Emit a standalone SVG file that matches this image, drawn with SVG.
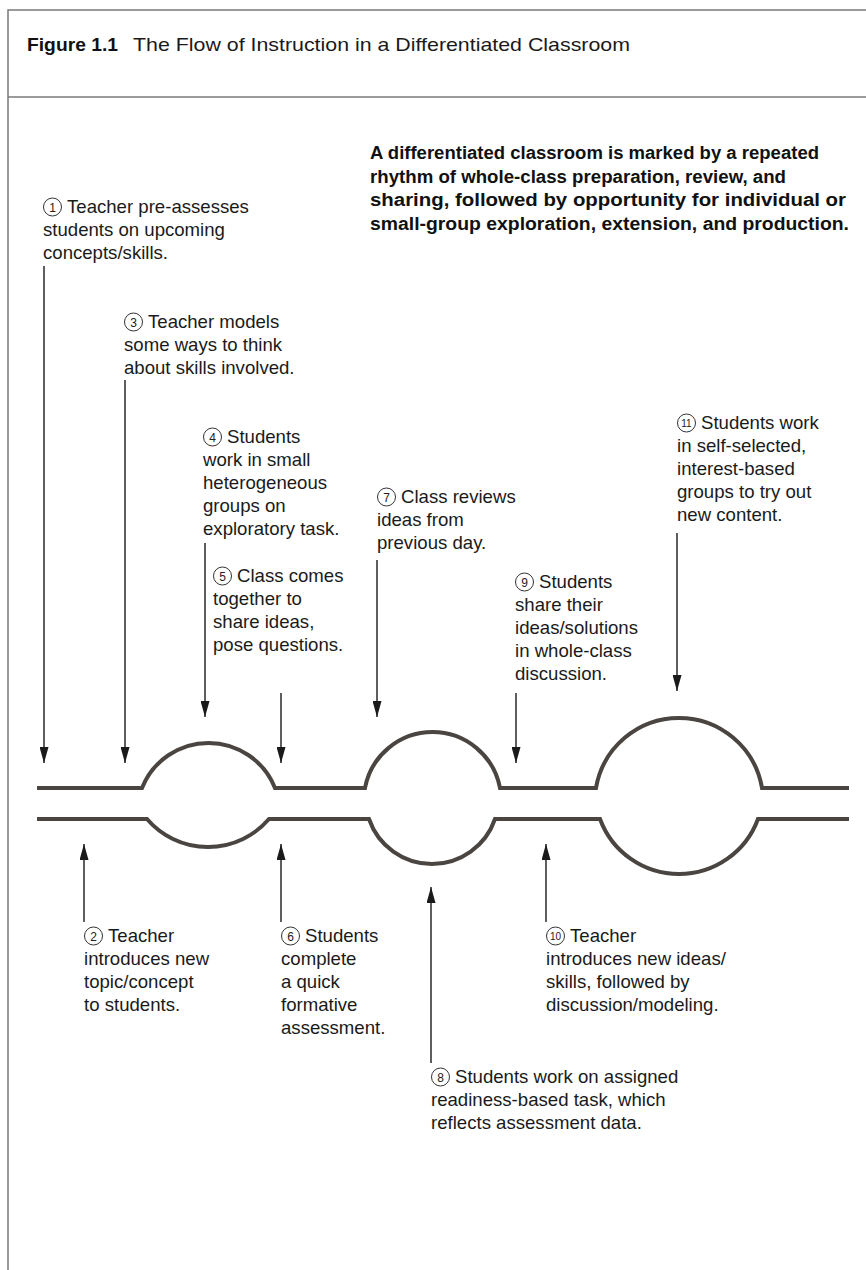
<svg xmlns="http://www.w3.org/2000/svg" width="866" height="1270" viewBox="0 0 866 1270">
<style>
.t{font-family:"Liberation Sans",Arial,sans-serif;font-size:18.6px;fill:#1a1a1a}
.b{font-family:"Liberation Sans",Arial,sans-serif;font-size:18px;font-weight:bold;fill:#111}
.h{font-family:"Liberation Sans",Arial,sans-serif;font-size:19px;fill:#1a1a1a}
.hb{font-family:"Liberation Sans",Arial,sans-serif;font-size:19px;font-weight:bold;fill:#111}
.n{font-family:"Liberation Sans",Arial,sans-serif;font-size:12px;fill:#222;text-anchor:middle}
.n2{font-family:"Liberation Sans",Arial,sans-serif;font-size:10px;fill:#222;text-anchor:middle}
.c{fill:none;stroke:#333;stroke-width:1}
.ar{stroke:#1a1a1a;stroke-width:1.4;fill:none}
.wave{fill:none;stroke:#4a4541;stroke-width:4;stroke-linejoin:miter}
.frame{stroke:#7a7a7a;stroke-width:1.5;fill:none}
</style>
<defs>
<marker id="ah" viewBox="0 0 16 9" refX="16" refY="4.5" markerWidth="16" markerHeight="9" markerUnits="userSpaceOnUse" orient="auto">
<path d="M0,0 L16,4.5 L0,9 Z" fill="#1a1a1a"/>
</marker>
</defs>
<rect width="866" height="1270" fill="#fff"/>
<g id="frame">
<path class="frame" d="M8,1270 V10 H866"/>
<path class="frame" d="M8,97 H866" stroke-width="2"/>
</g>
<g id="title">
<text class="hb" x="27" y="51" textLength="91" lengthAdjust="spacingAndGlyphs">Figure 1.1</text>
<text class="h" x="133" y="51" textLength="497" lengthAdjust="spacingAndGlyphs">The Flow of Instruction in a Differentiated Classroom</text>
</g>
<g id="summary">
<text class="b" x="370" y="159" textLength="449" lengthAdjust="spacingAndGlyphs">A differentiated classroom is marked by a repeated</text>
<text class="b" x="370" y="183" textLength="416" lengthAdjust="spacingAndGlyphs">rhythm of whole-class preparation, review, and</text>
<text class="b" x="370" y="206" textLength="476" lengthAdjust="spacingAndGlyphs">sharing, followed by opportunity for individual or</text>
<text class="b" x="370" y="230" textLength="479" lengthAdjust="spacingAndGlyphs">small-group exploration, extension, and production.</text>
</g>
<g id="wave">
<path class="wave" d="M37,788 H142 A71.6,71.6 0 0 1 275,788 H365 A68.7,68.7 0 0 1 500,788 H596 A84.2,84.2 0 0 1 762,788 H849"/>
<path class="wave" d="M37,819 H147 A80.4,80.4 0 0 0 269,819 H369 A66.6,66.6 0 0 0 495,819 H600 A84.2,84.2 0 0 0 758,819 H849"/>
</g>
<g id="connectors">
<line class="ar" x1="44" y1="266" x2="44" y2="763" marker-end="url(#ah)"/>
<line class="ar" x1="125" y1="380" x2="125" y2="763" marker-end="url(#ah)"/>
<line class="ar" x1="205" y1="543" x2="205" y2="717" marker-end="url(#ah)"/>
<line class="ar" x1="281" y1="693" x2="281" y2="763" marker-end="url(#ah)"/>
<line class="ar" x1="377" y1="560" x2="377" y2="717" marker-end="url(#ah)"/>
<line class="ar" x1="516" y1="693" x2="516" y2="763" marker-end="url(#ah)"/>
<line class="ar" x1="677" y1="533" x2="677" y2="691" marker-end="url(#ah)"/>
<line class="ar" x1="84" y1="922" x2="84" y2="844" marker-end="url(#ah)"/>
<line class="ar" x1="281" y1="922" x2="281" y2="844" marker-end="url(#ah)"/>
<line class="ar" x1="431" y1="1063" x2="431" y2="887" marker-end="url(#ah)"/>
<line class="ar" x1="546" y1="922" x2="546" y2="844" marker-end="url(#ah)"/>
</g>
<g id="n1">
<circle class="c" cx="52.5" cy="207" r="9"/><text class="n" x="52.5" y="211.5">1</text>
<text class="t" x="67" y="213">Teacher pre-assesses</text>
<text class="t" x="43" y="236">students on upcoming</text>
<text class="t" x="43" y="259">concepts/skills.</text>
</g>
<g id="n3">
<circle class="c" cx="133.5" cy="322" r="9"/><text class="n" x="133.5" y="326.5">3</text>
<text class="t" x="148" y="328">Teacher models</text>
<text class="t" x="124" y="351">some ways to think</text>
<text class="t" x="124" y="374">about skills involved.</text>
</g>
<g id="n4">
<circle class="c" cx="212.5" cy="437" r="9"/><text class="n" x="212.5" y="441.5">4</text>
<text class="t" x="227" y="443">Students</text>
<text class="t" x="203" y="466">work in small</text>
<text class="t" x="203" y="489">heterogeneous</text>
<text class="t" x="203" y="512">groups on</text>
<text class="t" x="203" y="535">exploratory task.</text>
</g>
<g id="n5">
<circle class="c" cx="222.5" cy="576" r="9"/><text class="n" x="222.5" y="580.5">5</text>
<text class="t" x="237" y="582">Class comes</text>
<text class="t" x="213" y="605">together to</text>
<text class="t" x="213" y="628">share ideas,</text>
<text class="t" x="213" y="651">pose questions.</text>
</g>
<g id="n7">
<circle class="c" cx="386.5" cy="497" r="9"/><text class="n" x="386.5" y="501.5">7</text>
<text class="t" x="401" y="503">Class reviews</text>
<text class="t" x="377" y="526">ideas from</text>
<text class="t" x="377" y="549">previous day.</text>
</g>
<g id="n9">
<circle class="c" cx="524.5" cy="582" r="9"/><text class="n" x="524.5" y="586.5">9</text>
<text class="t" x="539" y="588">Students</text>
<text class="t" x="515" y="611">share their</text>
<text class="t" x="515" y="634">ideas/solutions</text>
<text class="t" x="515" y="657">in whole-class</text>
<text class="t" x="515" y="680">discussion.</text>
</g>
<g id="n11">
<circle class="c" cx="686.5" cy="423" r="9"/><text class="n2" x="686.5" y="426.5">11</text>
<text class="t" x="701" y="429">Students work</text>
<text class="t" x="677" y="452">in self-selected,</text>
<text class="t" x="677" y="475">interest-based</text>
<text class="t" x="677" y="498">groups to try out</text>
<text class="t" x="677" y="521">new content.</text>
</g>
<g id="n2">
<circle class="c" cx="93.5" cy="936" r="9"/><text class="n" x="93.5" y="940.5">2</text>
<text class="t" x="108" y="942">Teacher</text>
<text class="t" x="84" y="965">introduces new</text>
<text class="t" x="84" y="988">topic/concept</text>
<text class="t" x="84" y="1011">to students.</text>
</g>
<g id="n6">
<circle class="c" cx="290.5" cy="936" r="9"/><text class="n" x="290.5" y="940.5">6</text>
<text class="t" x="305" y="942">Students</text>
<text class="t" x="281" y="965">complete</text>
<text class="t" x="281" y="988">a quick</text>
<text class="t" x="281" y="1011">formative</text>
<text class="t" x="281" y="1034">assessment.</text>
</g>
<g id="n10">
<circle class="c" cx="555.5" cy="936" r="9"/><text class="n2" x="555.5" y="939.5">10</text>
<text class="t" x="570" y="942">Teacher</text>
<text class="t" x="546" y="965">introduces new ideas/</text>
<text class="t" x="546" y="988">skills, followed by</text>
<text class="t" x="546" y="1011">discussion/modeling.</text>
</g>
<g id="n8">
<circle class="c" cx="440.5" cy="1077" r="9"/><text class="n" x="440.5" y="1081.5">8</text>
<text class="t" x="455" y="1083">Students work on assigned</text>
<text class="t" x="431" y="1106">readiness-based task, which</text>
<text class="t" x="431" y="1129">reflects assessment data.</text>
</g>
</svg>
